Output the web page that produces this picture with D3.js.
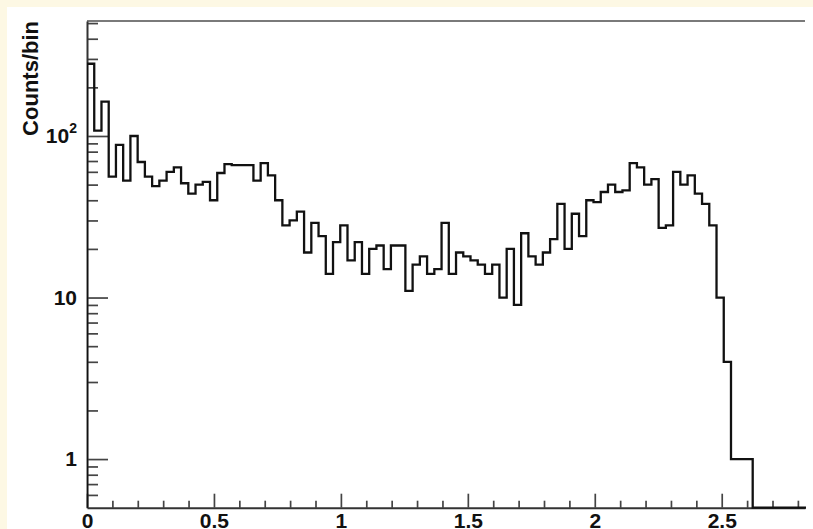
<!DOCTYPE html>
<html>
<head>
<meta charset="utf-8">
<script src="https://cdn.jsdelivr.net/npm/d3@7"></script>
<style>
  html, body { margin: 0; padding: 0; background: #fdf8e4; }
  svg { display: block; }
</style>
</head>
<body>
<svg id="chart" width="813" height="529"></svg>
<script>
// Histogram: fixed-width bins starting at 0
const binWidth = 0.0285;
const counts = [
  280, 108, 163, 56, 88, 53, 100, 69, 56, 49,
  53, 60, 64, 51, 44, 50, 52, 40, 59, 67,
  66, 66, 66, 53, 68, 57, 40, 28, 30, 34,
  19, 29, 24, 14, 22, 28, 17, 22, 14, 20,
  21, 15, 21, 21, 11, 16, 18, 14, 15, 29,
  14, 19, 18, 17, 16, 14, 16, 10, 20, 9,
  25, 18, 16, 19, 23, 38, 20, 33, 24, 40,
  39, 45, 50, 45, 46, 68, 64, 50, 54, 27,
  28, 60, 50, 57, 44, 38, 28, 10, 4, 1,
  1, 1, 0, 0, 0, 0, 0, 0, 0, 0
];

// Axis ranges and ticks
const xDomain = [0, 2.828];
const yDomain = [0.5, 515];
const xMajorTicks = [0, 0.5, 1, 1.5, 2, 2.5];
const xTickLabels = ["0", "0.5", "1", "1.5", "2", "2.5"];
const xMinorTicks = [0.1, 0.2, 0.3, 0.4, 0.6, 0.7, 0.8, 0.9, 1.1, 1.2, 1.3, 1.4,
  1.6, 1.7, 1.8, 1.9, 2.1, 2.2, 2.3, 2.4, 2.6, 2.7, 2.8];
const yMajorTicks = [1, 10, 100];
const yTickLabels = [["1", ""], ["10", ""], ["10", "2"]];
const yMinorTicks = [0.6, 0.7, 0.8, 0.9, 2, 3, 4, 5, 6, 7, 8, 9,
  20, 30, 40, 50, 60, 70, 80, 90, 200, 300, 400, 500];
const yTitle = "Counts/bin";

const W = 813, H = 529;
const plot = { left: 87, right: 805, top: 21, bottom: 507.7 };
const FONT = "'Liberation Sans', Arial, Helvetica, sans-serif";

const svg = d3.select("#chart");

// canvas area
svg.append("rect").attr("x", 7).attr("y", 7)
  .attr("width", W - 7).attr("height", H - 7).attr("fill", "#ffffff");

const x = d3.scaleLinear().domain(xDomain).range([plot.left, plot.right]);
const y = d3.scaleLog().domain(yDomain).range([plot.bottom, plot.top]);

// top frame line
svg.append("line")
  .attr("x1", plot.left).attr("x2", plot.right)
  .attr("y1", plot.top).attr("y2", plot.top)
  .attr("stroke", "#7a7a7a").attr("stroke-width", 2);

svg.append("clipPath").attr("id", "plotClip")
  .append("rect")
  .attr("x", plot.left).attr("y", plot.top - 2)
  .attr("width", plot.right - plot.left + 1)
  .attr("height", plot.bottom - plot.top + 4);

// histogram outline
const pts = [[0, yDomain[0]]];
counts.forEach((c, i) => pts.push([i * binWidth, Math.max(c, yDomain[0])]));
pts.push([counts.length * binWidth, Math.max(counts[counts.length - 1], yDomain[0])]);

const line = d3.line()
  .x(d => x(d[0]))
  .y(d => y(d[1]))
  .curve(d3.curveStepAfter);

function styleAxis(g) {
  g.select(".domain").attr("stroke", "#333333").attr("stroke-width", 2);
  g.selectAll(".tick line").attr("stroke", "#444444").attr("stroke-width", 1.7);
  g.selectAll("text")
    .attr("font-family", FONT)
    .attr("font-weight", "bold")
    .attr("font-size", 21)
    .attr("fill", "#111111");
}

// x axis: minor then major ticks, pointing into the frame
svg.append("g")
  .attr("transform", `translate(0,${plot.bottom})`)
  .call(d3.axisBottom(x).tickValues(xMinorTicks).tickSizeInner(-7).tickSizeOuter(0).tickFormat(""))
  .call(g => { styleAxis(g); g.select(".domain").remove(); });

svg.append("g")
  .attr("transform", `translate(0,${plot.bottom})`)
  .call(d3.axisBottom(x).tickValues(xMajorTicks).tickSizeInner(-14).tickSizeOuter(0)
    .tickPadding(5).tickFormat((d, i) => xTickLabels[i]))
  .call(styleAxis);

// y axis
svg.append("g")
  .attr("transform", `translate(${plot.left},0)`)
  .call(d3.axisLeft(y).tickValues(yMinorTicks).tickSizeInner(-11).tickSizeOuter(0).tickFormat(""))
  .call(g => { styleAxis(g); g.select(".domain").remove(); });

const yAxisG = svg.append("g")
  .attr("transform", `translate(${plot.left},0)`)
  .call(d3.axisLeft(y).tickValues(yMajorTicks).tickSizeInner(-21).tickSizeOuter(0)
    .tickPadding(10).tickFormat(""))
  .call(styleAxis);

yAxisG.selectAll(".tick text").each(function(d, i) {
  const t = d3.select(this);
  const [base, sup] = yTickLabels[i];
  t.text(null);
  t.append("tspan").text(base);
  if (sup) {
    t.append("tspan").attr("font-size", 14).attr("dy", "-0.7em").text(sup);
  }
});

svg.append("path")
  .datum(pts)
  .attr("clip-path", "url(#plotClip)")
  .attr("d", line)
  .attr("fill", "none")
  .attr("stroke", "#111111")
  .attr("stroke-width", 2.3)
  .attr("stroke-linejoin", "miter");

// y title
svg.append("text")
  .attr("transform", `translate(38,${plot.top}) rotate(-90)`)
  .attr("text-anchor", "end")
  .attr("font-family", FONT)
  .attr("font-weight", "bold")
  .attr("font-size", 22)
  .attr("fill", "#111111")
  .text(yTitle);
</script>
</body>
</html>
